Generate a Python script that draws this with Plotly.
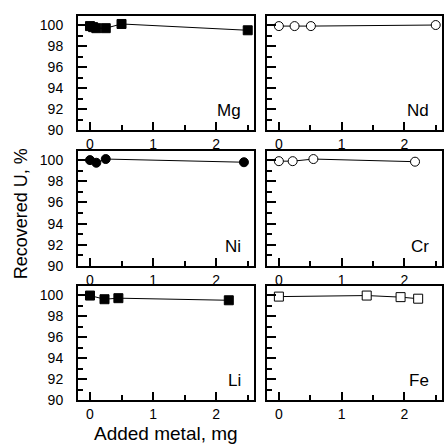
import plotly.graph_objects as go

# Data (x = added metal, mg; y = recovered U, %)
mg_x = [0, 0.05, 0.1, 0.25, 0.5, 2.5]
mg_y = [99.9, 99.8, 99.7, 99.7, 100.1, 99.5]
nd_x = [0, 0.25, 0.51, 2.5]
nd_y = [99.9, 99.9, 99.9, 100.0]
ni_x = [0, 0.1, 0.25, 2.44]
ni_y = [100.0, 99.75, 100.1, 99.8]
cr_x = [0, 0.22, 0.55, 2.17]
cr_y = [99.9, 99.9, 100.1, 99.85]
li_x = [0, 0.23, 0.45, 2.2]
li_y = [99.95, 99.6, 99.7, 99.5]
fe_x = [0, 1.4, 1.94, 2.22]
fe_y = [99.85, 99.95, 99.8, 99.65]

panels = [
    ("Mg", mg_x, mg_y, "square", True),
    ("Nd", nd_x, nd_y, "circle", False),
    ("Ni", ni_x, ni_y, "circle", True),
    ("Cr", cr_x, cr_y, "circle", False),
    ("Li", li_x, li_y, "square", True),
    ("Fe", fe_x, fe_y, "square", False),
]

FONT = "Liberation Sans, Arial, sans-serif"
W, H = 446, 444
ml, mr, mt, mb = 78, 2, 16, 44
pw = W - ml - mr
ph = H - mt - mb

col_px = [(78, 255), (268, 444)]
row_px = [(16, 130), (151, 266), (286, 400)]

fig = go.Figure()
layout = {}
for i, (name, xs, ys, sym, filled) in enumerate(panels):
    r, c = divmod(i, 2)
    n = i + 1
    xa = "x" if n == 1 else f"x{n}"
    ya = "y" if n == 1 else f"y{n}"
    fig.add_trace(go.Scatter(
        x=xs, y=ys, xaxis=xa, yaxis=ya, mode="lines+markers",
        line=dict(color="black", width=1),
        marker=dict(symbol=sym, size=9,
                    color="black" if filled else "white",
                    line=dict(color="black", width=1)),
        showlegend=False, cliponaxis=False,
    ))
    x0, x1 = col_px[c]
    y0, y1 = row_px[r]
    xdom = [(x0 - ml) / pw, (x1 - ml) / pw]
    ydom = [(H - mb - y1) / ph, (H - mb - y0) / ph]
    layout[f"xaxis{'' if n == 1 else n}"] = dict(
        domain=xdom, anchor=ya, range=[-0.19, 2.6],
        tickmode="linear", tick0=0, dtick=1,
        ticks="inside", ticklen=8, tickwidth=2,
        minor=dict(tickmode="linear", tick0=0, dtick=0.5, ticks="inside",
                   ticklen=5, tickwidth=2, tickcolor="black", showgrid=False),
        showline=True, linewidth=2, linecolor="black", mirror=True,
        showgrid=False, zeroline=False, tickcolor="black",
        tickfont=dict(family=FONT, size=14, color="black"),
    )
    layout[f"yaxis{'' if n == 1 else n}"] = dict(
        domain=ydom, anchor=xa, range=[90, 100.86],
        tickmode="linear", tick0=90, dtick=2,
        ticks="inside", ticklen=9, tickwidth=2,
        minor=dict(tickmode="linear", tick0=90, dtick=1, ticks="inside",
                   ticklen=5, tickwidth=2, tickcolor="black", showgrid=False),
        showline=True, linewidth=2, linecolor="black", mirror=True,
        showgrid=False, zeroline=False, tickcolor="black",
        showticklabels=(c == 0),
        ticklabelstandoff=10,
        tickfont=dict(family=FONT, size=14, color="black"),
    )
    fig.add_annotation(
        text=name, xref=f"{xa} domain", yref=f"{ya} domain",
        x=1, y=0, xanchor="right", yanchor="bottom", xshift=-11, yshift=8,
        showarrow=False, font=dict(family=FONT, size=17, color="black"),
    )

fig.add_annotation(text="Recovered U, %", xref="paper", yref="paper",
                   x=(21 - ml) / pw, y=(H - mb - 214) / ph, textangle=-90,
                   xanchor="center", yanchor="middle", showarrow=False,
                   font=dict(family=FONT, size=18, color="black"))
fig.add_annotation(text="Added metal, mg", xref="paper", yref="paper",
                   x=(166 - ml) / pw, y=(H - mb - 433) / ph,
                   xanchor="center", yanchor="middle", showarrow=False,
                   font=dict(family=FONT, size=19, color="black"))

fig.update_layout(
    width=W, height=H, margin=dict(l=ml, r=mr, t=mt, b=mb),
    paper_bgcolor="white", plot_bgcolor="white",
    font=dict(family=FONT, color="black"),
    **layout,
)
fig.write_html("out.html", config={"displayModeBar": False},
               post_script="document.body.style.margin='0';document.body.style.overflow='hidden';")
